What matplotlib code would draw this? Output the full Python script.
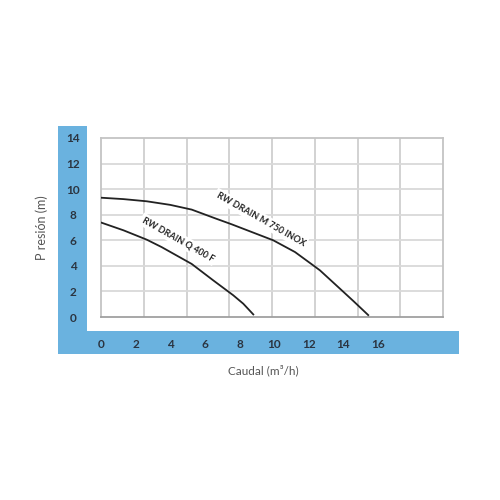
import matplotlib.pyplot as plt
from matplotlib.patches import Rectangle
import numpy as np

plt.rcParams['font.family'] = ['Lato', 'DejaVu Sans']

# curves (caudal m3/h, presion m)
m750_q = [0, 1.3, 2.64, 4.0, 5.24, 6.59, 7.55, 9.95, 11.21, 12.26, 12.65, 13.81, 14.58, 15.44]
m750_h = [9.33, 9.22, 9.05, 8.77, 8.4, 7.72, 7.25, 6.0, 5.08, 4.04, 3.65, 2.21, 1.25, 0.15]
q400_q = [0, 1.3, 2.64, 3.5, 5.24, 6.49, 7.64, 8.22, 8.8]
q400_h = [7.39, 6.78, 6.05, 5.47, 4.15, 2.86, 1.7, 1.04, 0.2]

x_ticks = [0, 2, 4, 6, 8, 10, 12, 14, 16]
y_ticks = [0, 2, 4, 6, 8, 10, 12, 14]

XMAX = 19.76
blue = '#6ab2df'
tick_col = '#2b3440'

fig = plt.figure(figsize=(5, 5), dpi=100)

# blue L frame
fig.patches.append(Rectangle((0.116, 0.292), 0.058, 0.456, transform=fig.transFigure,
                             facecolor=blue, edgecolor='none', zorder=-1))
fig.patches.append(Rectangle((0.116, 0.292), 0.802, 0.046, transform=fig.transFigure,
                             facecolor=blue, edgecolor='none', zorder=-1))

ax = fig.add_axes([0.202, 0.366, 0.684, 0.358])
ax.set_zorder(2)
ax.set_xlim(0, XMAX)
ax.set_ylim(0, 14)

# grid
for gx in np.linspace(0, XMAX, 9)[1:-1]:
    ax.axvline(gx, color='#cfcfcf', lw=1.3, zorder=1)
for gy in y_ticks[1:-1]:
    ax.axhline(gy, color='#d9d9d9', lw=1.3, zorder=1)

for s in ax.spines.values():
    s.set_color('#c4c4c4')
    s.set_linewidth(1.3)
ax.spines['bottom'].set_color('#a0a0a0')

ax.plot(m750_q, m750_h, color='#222222', lw=1.3, zorder=3)
ax.plot(q400_q, q400_h, color='#222222', lw=1.3, zorder=3)

ax.text(9.22, 7.65, 'RW DRAIN M 750 INOX', rotation=-29.5, ha='center', va='center',
        fontsize=6.5, fontweight='bold', color='#222222', zorder=2,
        bbox=dict(facecolor='white', edgecolor='none', pad=1.5))
ax.text(4.45, 6.08, 'RW DRAIN Q 400 F', rotation=-29.5, ha='center', va='center',
        fontsize=6.5, fontweight='bold', color='#222222', zorder=2,
        bbox=dict(facecolor='white', edgecolor='none', pad=1.5))

ax.set_xticks(x_ticks)
ax.set_xticklabels([str(v) for v in x_ticks], fontsize=8.5, fontweight='bold', color=tick_col)
ax.set_yticks(y_ticks)
ax.set_yticklabels([str(v) for v in y_ticks], fontsize=8.5, fontweight='bold', color=tick_col,
                   ha='center')
ax.tick_params(axis='x', length=0, pad=16)
ax.tick_params(axis='y', length=0, pad=20)

fig.text(0.084, 0.544, 'P resión (m)', rotation=90, ha='center', va='center',
         fontsize=9, color='#555555')
fig.text(0.526, 0.26, 'Caudal (m³/h)', ha='center', va='center',
         fontsize=8.5, color='#555555')

fig.savefig('out.png', dpi=100)
